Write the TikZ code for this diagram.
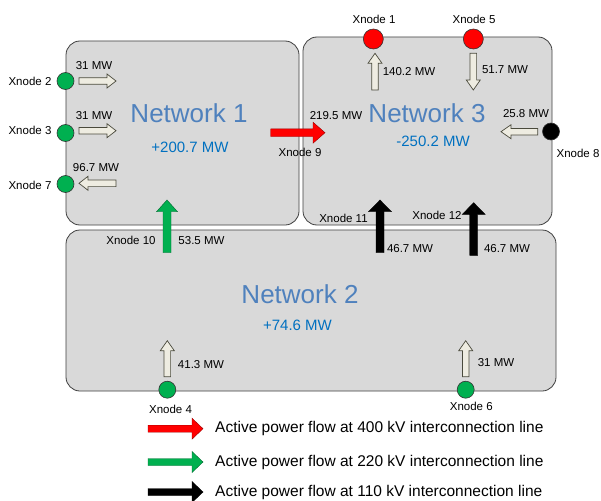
\documentclass[tikz,border=0pt]{standalone}
\usepackage{fontspec}
\setmainfont{Liberation Sans}
\definecolor{boxfill}{HTML}{D9D9D9}
\definecolor{boxline}{HTML}{404040}
\definecolor{nettitle}{HTML}{4F81BD}
\definecolor{netval}{HTML}{0070C0}
\definecolor{xgreen}{HTML}{00B050}
\definecolor{xred}{HTML}{FF0000}
\definecolor{beige}{HTML}{EEECE1}
\definecolor{beigeline}{HTML}{4A4A3C}
\tikzset{
  pics/blockarrow/.style args={#1/#2/#3/#4}{code={
    \path[pic actions] (0,-#2) -- ({#1-#4},-#2) -- ({#1-#4},-#3) -- (#1,0) -- ({#1-#4},#3) -- ({#1-#4},#2) -- (0,#2) -- cycle;
  }},
  netbox/.style={draw=boxline, fill=boxfill, line width=0.8pt, rounded corners=14pt},
  lbl/.style={inner sep=0pt, font=\fontsize{11.5}{13}\selectfont},
  title/.style={inner sep=0pt, text=nettitle, font=\fontsize{26}{30}\selectfont},
  val/.style={inner sep=0pt, text=netval, font=\fontsize{15}{18}\selectfont},
  legtxt/.style={inner sep=0pt, anchor=west, font=\fontsize{15.5}{18}\selectfont},
  xn/.style={circle, inner sep=0pt, minimum size=17pt, draw=black!80, line width=0.6pt},
  gnode/.style={xn, fill=xgreen},
  rnode/.style={xn, fill=xred, minimum size=20pt},
  knode/.style={xn, fill=black},
  smallarrow/.style={fill=beige, draw=beigeline, line width=0.7pt},
  redarrow/.style={fill=xred, draw=red!60!black, line width=0.4pt},
  greenarrow/.style={fill=xgreen, draw=xgreen!60!black, line width=0.4pt},
  blackarrow/.style={fill=black, draw=black, line width=0.4pt},
}
\begin{document}
\begin{tikzpicture}[x=1pt, y=-1pt]
\fill[white] (0,0) rectangle (601,500);
\useasboundingbox (0,0) rectangle (601,500);

% network boxes
\draw[netbox] (66,41) rectangle (299,225);
\draw[netbox] (303,37) rectangle (552,225);
\draw[netbox] (66,230) rectangle (556,391);

\node[title] (n1) at (189,113) {Network 1};
\node[val] (v1) at (190,147) {+200.7 MW};
\node[title] (n3) at (427,113) {Network 3};
\node[val] (v3) at (433,141) {-250.2 MW};
\node[title] (n2) at (300,294) {Network 2};
\node[val] (v2) at (297.5,325) {+74.6 MW};

% Network 1 left side nodes
\node[gnode] (x2) at (65.5,81) {};
\node[gnode] (x3) at (65.5,133) {};
\node[gnode] (x7) at (65.5,184) {};
\node[lbl] (lx2) at (30,81) {Xnode 2};
\node[lbl] (lx3) at (30,130.5) {Xnode 3};
\node[lbl] (lx7) at (30,185) {Xnode 7};
\pic[smallarrow] at (79,81) {blockarrow=37/3.3/7/9};
\pic[smallarrow] at (79,130.7) {blockarrow=37/3.3/7/9};
\pic[smallarrow, rotate=180] at (116,183.3) {blockarrow=37/3.3/7/9};
\node[lbl] (f2) at (94,66) {31 MW};
\node[lbl] (f3) at (94,115.5) {31 MW};
\node[lbl] (f7) at (96,168) {96.7 MW};

% Network 3 top nodes
\node[rnode] (x1) at (373.3,39) {};
\node[rnode] (x5) at (473.3,39) {};
\node[lbl] (lx1) at (374,19.3) {Xnode 1};
\node[lbl] (lx5) at (474,19.3) {Xnode 5};
\pic[smallarrow, rotate=90] at (375,90) {blockarrow=36.7/3.3/7/10};
\pic[smallarrow, rotate=-90] at (473.3,53.3) {blockarrow=36.7/3.3/7/10};
\node[lbl] (f1) at (409,72) {140.2 MW};
\node[lbl] (f5) at (505,69.5) {51.7 MW};

% Xnode 8
\node[knode] (x8) at (551,131.5) {};
\node[lbl] (lx8) at (578,153) {Xnode 8};
\pic[smallarrow, rotate=180] at (537.7,131.7) {blockarrow=36.7/3.3/7/10};
\node[lbl] (f8) at (526,113.5) {25.8 MW};

% Xnode 9 (400 kV)
\pic[redarrow] at (270.7,132.7) {blockarrow=54.3/3.8/10.5/12};
\node[lbl] (f9) at (336,115.7) {219.5 MW};
\node[lbl] (lx9) at (300,152.5) {Xnode 9};

% Xnode 10 (220 kV)
\pic[greenarrow, rotate=90] at (167,252.7) {blockarrow=52.7/4/10.5/11.7};
\node[lbl] (lx10) at (131,240.7) {Xnode 10};
\node[lbl] (f10) at (201.5,240.7) {53.5 MW};

% Xnode 11, 12 (110 kV)
\pic[blackarrow, rotate=90] at (380,252.7) {blockarrow=52.7/4/11.5/11.7};
\pic[blackarrow, rotate=90] at (473.7,255.3) {blockarrow=52.6/4/11.5/11.7};
\node[lbl] (lx11) at (343.5,218.3) {Xnode 11};
\node[lbl] (lx12) at (437,215) {Xnode 12};
\node[lbl] (f11) at (410,248.3) {46.7 MW};
\node[lbl] (f12) at (507,248.3) {46.7 MW};

% Network 2 bottom nodes
\node[gnode] (x4) at (167.3,389.7) {};
\node[gnode] (x6) at (465.7,389.7) {};
\node[lbl] (lx4) at (170.5,409.5) {Xnode 4};
\node[lbl] (lx6) at (471.3,406) {Xnode 6};
\pic[smallarrow, rotate=90] at (167.3,376.7) {blockarrow=36/3.3/7/10};
\pic[smallarrow, rotate=90] at (465.7,376.7) {blockarrow=36/3.3/7/10};
\node[lbl] (f4) at (201,364.3) {41.3 MW};
\node[lbl] (f6) at (496,362.7) {31 MW};

% legend
\pic[redarrow] at (148,428.7) {blockarrow=55/3.5/10.5/11};
\pic[greenarrow] at (148,462) {blockarrow=55/3.5/10.5/11};
\pic[blackarrow] at (148,492) {blockarrow=55/3.5/10.5/11};
\node[legtxt] (t1) at (215,428.7) {Active power flow at 400 kV interconnection line};
\node[legtxt] (t2) at (215,462) {Active power flow at 220 kV interconnection line};
\node[legtxt] (t3) at (215,492) {Active power flow at 110 kV interconnection line};
\end{tikzpicture}
\end{document}
